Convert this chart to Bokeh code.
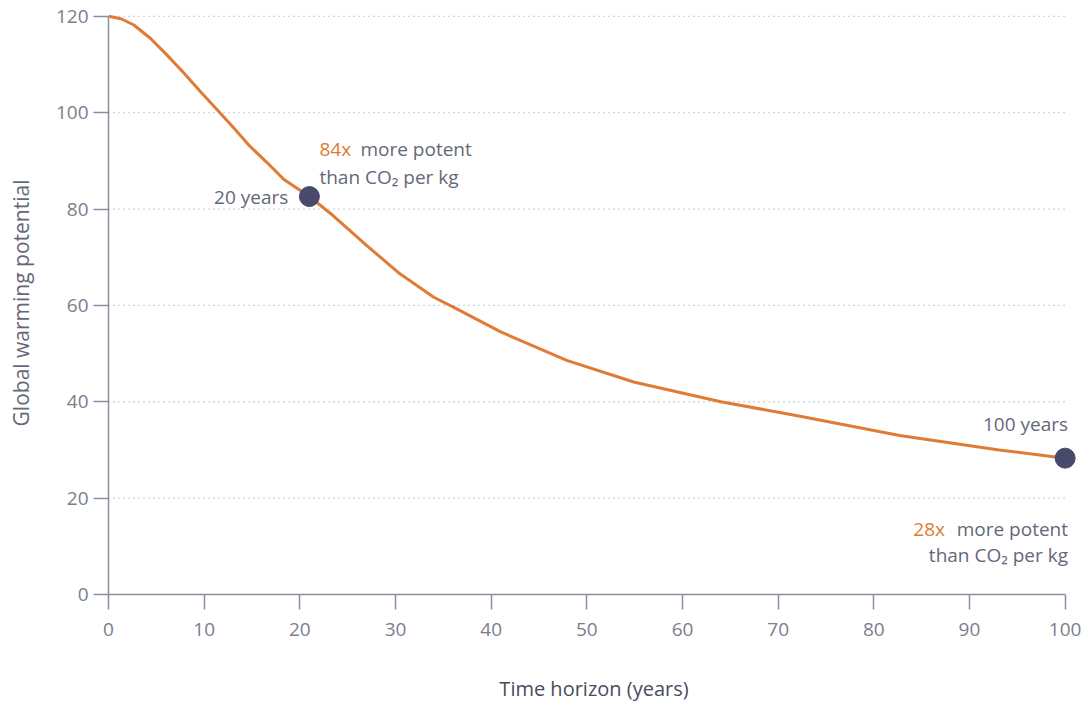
from bokeh.plotting import figure
from bokeh.models import Range1d, FixedTicker, Label
from bokeh.embed import file_html
from bokeh.resources import INLINE

# Data
years = [0, 1.3, 2.65, 4.4, 6.1, 7.9, 9.6, 11.5, 13.1, 14.8, 16.6, 18.3, 21, 23.5, 27, 30.5,
         34, 36.1, 41, 47.9, 54.9, 64, 72.3, 82.7, 93.1, 100]
gwp = [120, 119.5, 118.2, 115.4, 112, 108.2, 104.4, 100.3, 96.8, 93, 89.6, 86.2, 82.6, 78.6,
       72.4, 66.5, 61.7, 59.6, 54.5, 48.6, 44.1, 40.0, 37.0, 33.0, 30.0, 28.3]
marker_x = [21, 100]
marker_y = [82.6, 28.3]
x_ticks = [0, 10, 20, 30, 40, 50, 60, 70, 80, 90, 100]
y_ticks = [0, 20, 40, 60, 80, 100, 120]

FONT = "Open Sans"
ORANGE = "#e07b35"
GREY = "#646879"
TICK = "#7b7e8f"
AXIS = "#8b8e9e"
NAVY = "#474a6a"

p = figure(width=1085, height=704, output_backend="svg", toolbar_location=None,
           x_range=Range1d(0, 101.5), y_range=Range1d(0, 121),
           min_border_left=108, min_border_right=6, min_border_top=11, min_border_bottom=107)
p.outline_line_color = None
p.background_fill_color = "white"
p.xgrid.visible = False
p.ygrid.visible = False

# dotted horizontal grid lines, bounded to 0..100
gx0 = [0] * (len(y_ticks) - 1)
gx1 = [100] * (len(y_ticks) - 1)
p.segment(x0=gx0, x1=gx1, y0=y_ticks[1:], y1=y_ticks[1:], line_color="#a9abb5",
          line_width=1.3, line_dash="1 4")

for ax, ticks, bounds in ((p.xaxis[0], x_ticks, (0, 100)), (p.yaxis[0], y_ticks, (0, 120))):
    ax.ticker = FixedTicker(ticks=ticks)
    ax.bounds = bounds
    ax.axis_line_color = AXIS
    ax.axis_line_width = 1.5
    ax.major_tick_line_color = AXIS
    ax.major_tick_line_width = 1.5
    ax.major_tick_out = 15
    ax.major_tick_in = 0
    ax.minor_tick_line_color = None
    ax.major_label_text_font = FONT
    ax.major_label_text_font_size = "19px"
    ax.major_label_text_color = TICK
    ax.axis_label_text_font = FONT
    ax.axis_label_text_font_style = "normal"

p.xaxis.major_label_standoff = 13
p.yaxis.major_label_standoff = 5
p.xaxis.axis_label = "Time horizon (years)"
p.xaxis.axis_label_text_color = "#4a4c5c"
p.xaxis.axis_label_text_font_size = "20px"
p.xaxis.axis_label_standoff = 36
p.yaxis.axis_label = "Global warming potential"
p.yaxis.axis_label_text_color = GREY
p.yaxis.axis_label_text_font_size = "21px"
p.yaxis.axis_label_standoff = 18

p.line(years, gwp, line_color=ORANGE, line_width=3)
p.scatter(marker_x, marker_y, size=20, fill_color=NAVY, line_color=NAVY)

def lab(x, y, text, color, align="left", xo=0):
    p.add_layout(Label(x=x, y=y, text=text, text_color=color, text_font=FONT,
                       text_font_size="19px", text_align=align, text_baseline="middle",
                       x_offset=xo))

# 20-year annotation
lab(22.05, 92.4, "84x", ORANGE)
lab(22.05, 92.4, "more potent", GREY, xo=41)
lab(22.05, 86.6, "than CO\u2082 per kg", GREY)
lab(18.8, 82.5, "20 years", GREY, align="right")

# 100-year annotation
lab(100.3, 35.3, "100 years", GREY, align="right")
lab(100.3, 13.6, "more potent", GREY, align="right")
lab(100.3, 13.6, "28x", ORANGE, align="right", xo=-123)
lab(100.3, 8.1, "than CO\u2082 per kg", GREY, align="right")

open("out.html", "w").write(file_html(p, INLINE))
